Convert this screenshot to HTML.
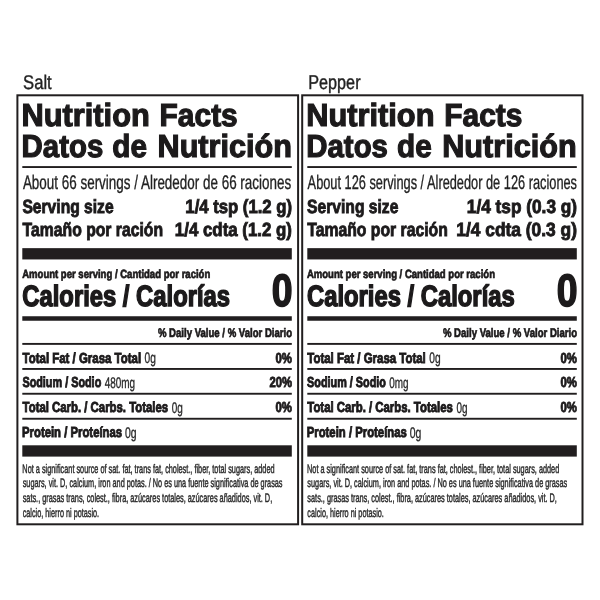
<!DOCTYPE html>
<html lang="en"><head><meta charset="utf-8"><title>Nutrition Facts</title><style>
html,body{margin:0;padding:0;background:#fff}body{width:600px;height:600px;position:relative;overflow:hidden;font-family:"Liberation Sans", sans-serif}.t{position:absolute;left:0;top:0;white-space:nowrap;line-height:1;display:block;transform-origin:0 0;text-rendering:geometricPrecision}.w{position:absolute;left:0;top:0;width:600px;height:600px;will-change:transform}.g{position:absolute;left:0;top:0}
</style></head><body><div class="w">
<svg class="g" width="600" height="600" viewBox="0 0 600 600" shape-rendering="geometricPrecision">
<rect x="17.4" y="95.3" width="280.7" height="429" fill="none" stroke="#211e1f" stroke-width="2"/>
<rect x="302.2" y="95.3" width="280.3" height="429" fill="none" stroke="#211e1f" stroke-width="2"/>
<rect x="22.3" y="166.1" width="269.5" height="1.9" fill="#211e1f"/>
<rect x="22.3" y="248.15" width="269.5" height="11.3" fill="#211e1f"/>
<rect x="22.3" y="316.25" width="269.5" height="4.5" fill="#211e1f"/>
<rect x="22.3" y="342.95" width="269.5" height="1.9" fill="#211e1f"/>
<rect x="22.3" y="368" width="269.5" height="1.9" fill="#211e1f"/>
<rect x="22.3" y="392.8" width="269.5" height="1.9" fill="#211e1f"/>
<rect x="22.3" y="417.8" width="269.5" height="1.9" fill="#211e1f"/>
<rect x="22.3" y="445.3" width="269.5" height="11.3" fill="#211e1f"/>
<rect x="307.3" y="166.1" width="269.5" height="1.9" fill="#211e1f"/>
<rect x="307.3" y="248.15" width="269.5" height="11.3" fill="#211e1f"/>
<rect x="307.3" y="316.25" width="269.5" height="4.5" fill="#211e1f"/>
<rect x="307.3" y="342.95" width="269.5" height="1.9" fill="#211e1f"/>
<rect x="307.3" y="368" width="269.5" height="1.9" fill="#211e1f"/>
<rect x="307.3" y="392.8" width="269.5" height="1.9" fill="#211e1f"/>
<rect x="307.3" y="417.8" width="269.5" height="1.9" fill="#211e1f"/>
<rect x="307.3" y="445.3" width="269.5" height="11.3" fill="#211e1f"/>
</svg>
<span class="t" style="font-size:19.83px;font-weight:400;color:#222;-webkit-text-stroke:0.4px #222;transform:translate(23.07px,74.02px) scaleX(0.8388)">Salt</span>
<span class="t" style="font-size:31.98px;font-weight:700;color:#1c1a1b;-webkit-text-stroke:1.2px #1c1a1b;transform:translate(21.56px,99.02px) scaleX(0.9628)">Nutrition</span>
<span class="t" style="font-size:31.98px;font-weight:700;color:#1c1a1b;-webkit-text-stroke:1.2px #1c1a1b;transform:translate(159.60px,99.02px) scaleX(0.9354)">Facts</span>
<span class="t" style="font-size:31.84px;font-weight:700;color:#1c1a1b;-webkit-text-stroke:1.2px #1c1a1b;transform:translate(21.62px,131.02px) scaleX(0.9229)">Datos</span>
<span class="t" style="font-size:31.84px;font-weight:700;color:#1c1a1b;-webkit-text-stroke:1.2px #1c1a1b;transform:translate(112.30px,131.02px) scaleX(0.9333)">de</span>
<span class="t" style="font-size:31.84px;font-weight:700;color:#1c1a1b;-webkit-text-stroke:1.2px #1c1a1b;transform:translate(157.56px,131.02px) scaleX(0.9616)">Nutrición</span>
<span class="t" style="font-size:19.76px;font-weight:400;color:#222;-webkit-text-stroke:0.35px #222;transform:translate(22.90px,174.02px) scaleX(0.6806)">About 66 servings / Alrededor de 66 raciones</span>
<span class="t" style="font-size:19.13px;font-weight:700;color:#1c1a1b;-webkit-text-stroke:0.9px #1c1a1b;transform:translate(22.40px,198.02px) scaleX(0.8180)">Serving size</span>
<span class="t" style="font-size:19.13px;font-weight:700;color:#1c1a1b;-webkit-text-stroke:0.9px #1c1a1b;transform:translate(185.34px,198.02px) scaleX(0.8737)">1/4 tsp (1.2 g)</span>
<span class="t" style="font-size:19.13px;font-weight:700;color:#1c1a1b;-webkit-text-stroke:0.9px #1c1a1b;transform:translate(22.61px,221.02px) scaleX(0.8235)">Tamaño por ración</span>
<span class="t" style="font-size:19.13px;font-weight:700;color:#1c1a1b;-webkit-text-stroke:0.9px #1c1a1b;transform:translate(174.84px,221.02px) scaleX(0.8821)">1/4 cdta (1.2 g)</span>
<span class="t" style="font-size:11.87px;font-weight:700;color:#1c1a1b;-webkit-text-stroke:0.7px #1c1a1b;transform:translate(22.20px,269.02px) scaleX(0.8039)">Amount per serving / Cantidad por ración</span>
<span class="t" style="font-size:29.47px;font-weight:700;color:#1c1a1b;-webkit-text-stroke:1.5px #1c1a1b;transform:translate(22.30px,282.02px) scaleX(0.8078)">Calories / Calorías</span>
<span class="t" style="font-size:45.25px;font-weight:700;color:#1c1a1b;-webkit-text-stroke:1.6px #1c1a1b;transform:translate(271.67px,268.02px) scaleX(0.8261)">0</span>
<span class="t" style="font-size:12.43px;font-weight:700;color:#1c1a1b;-webkit-text-stroke:0.7px #1c1a1b;transform:translate(157.90px,327.02px) scaleX(0.7712)">% Daily Value / % Valor Diario</span>
<span class="t" style="font-size:14.53px;font-weight:700;color:#1c1a1b;-webkit-text-stroke:0.9px #1c1a1b;transform:translate(22.60px,352.02px) scaleX(0.7883)">Total Fat / Grasa Total</span>
<span class="t" style="font-size:15.29px;font-weight:400;color:#2a2a2a;-webkit-text-stroke:0.35px #2a2a2a;transform:translate(144.57px,351.02px) scaleX(0.6667)">0g</span>
<span class="t" style="font-size:14.53px;font-weight:700;color:#1c1a1b;-webkit-text-stroke:0.9px #1c1a1b;transform:translate(275.55px,352.02px) scaleX(0.7831)">0%</span>
<span class="t" style="font-size:14.53px;font-weight:700;color:#1c1a1b;-webkit-text-stroke:0.9px #1c1a1b;transform:translate(22.40px,376.02px) scaleX(0.7464)">Sodium / Sodio</span>
<span class="t" style="font-size:15.29px;font-weight:400;color:#2a2a2a;-webkit-text-stroke:0.35px #2a2a2a;transform:translate(104.74px,376.02px) scaleX(0.6503)">480mg</span>
<span class="t" style="font-size:14.53px;font-weight:700;color:#1c1a1b;-webkit-text-stroke:0.9px #1c1a1b;transform:translate(269.50px,376.02px) scaleX(0.7759)">20%</span>
<span class="t" style="font-size:14.53px;font-weight:700;color:#1c1a1b;-webkit-text-stroke:0.9px #1c1a1b;transform:translate(22.60px,401.02px) scaleX(0.7833)">Total Carb. / Carbs. Totales</span>
<span class="t" style="font-size:15.29px;font-weight:400;color:#2a2a2a;-webkit-text-stroke:0.35px #2a2a2a;transform:translate(171.82px,401.02px) scaleX(0.6508)">0g</span>
<span class="t" style="font-size:14.53px;font-weight:700;color:#1c1a1b;-webkit-text-stroke:0.9px #1c1a1b;transform:translate(275.55px,401.02px) scaleX(0.7831)">0%</span>
<span class="t" style="font-size:14.53px;font-weight:700;color:#1c1a1b;-webkit-text-stroke:0.9px #1c1a1b;transform:translate(22.01px,426.02px) scaleX(0.7804)">Protein / Proteínas</span>
<span class="t" style="font-size:15.29px;font-weight:400;color:#2a2a2a;-webkit-text-stroke:0.35px #2a2a2a;transform:translate(125.06px,426.02px) scaleX(0.6825)">0g</span>
<span class="t" style="font-size:12.36px;font-weight:400;color:#2a2a2a;-webkit-text-stroke:0.45px #2a2a2a;transform:translate(22.36px,463.02px) scaleX(0.5921)">Not a significant source of sat. fat, trans fat, cholest., fiber, total sugars, added</span>
<span class="t" style="font-size:12.36px;font-weight:400;color:#2a2a2a;-webkit-text-stroke:0.45px #2a2a2a;transform:translate(22.65px,477.02px) scaleX(0.5920)">sugars, vit. D, calcium, iron and potas. / No es una fuente significativa de grasas</span>
<span class="t" style="font-size:12.36px;font-weight:400;color:#2a2a2a;-webkit-text-stroke:0.45px #2a2a2a;transform:translate(22.65px,492.02px) scaleX(0.5936)">sats., grasas trans, colest., fibra, azúcares totales, azúcares añadidos, vit. D,</span>
<span class="t" style="font-size:12.36px;font-weight:400;color:#2a2a2a;-webkit-text-stroke:0.45px #2a2a2a;transform:translate(22.65px,507.02px) scaleX(0.5891)">calcio, hierro ni potasio.</span>
<span class="t" style="font-size:19.83px;font-weight:400;color:#222;-webkit-text-stroke:0.4px #222;transform:translate(308.17px,74.02px) scaleX(0.8193)">Pepper</span>
<span class="t" style="font-size:31.98px;font-weight:700;color:#1c1a1b;-webkit-text-stroke:1.2px #1c1a1b;transform:translate(306.26px,99.02px) scaleX(0.9628)">Nutrition</span>
<span class="t" style="font-size:31.98px;font-weight:700;color:#1c1a1b;-webkit-text-stroke:1.2px #1c1a1b;transform:translate(444.30px,99.02px) scaleX(0.9354)">Facts</span>
<span class="t" style="font-size:31.84px;font-weight:700;color:#1c1a1b;-webkit-text-stroke:1.2px #1c1a1b;transform:translate(306.32px,131.02px) scaleX(0.9229)">Datos</span>
<span class="t" style="font-size:31.84px;font-weight:700;color:#1c1a1b;-webkit-text-stroke:1.2px #1c1a1b;transform:translate(397.00px,131.02px) scaleX(0.9333)">de</span>
<span class="t" style="font-size:31.84px;font-weight:700;color:#1c1a1b;-webkit-text-stroke:1.2px #1c1a1b;transform:translate(442.26px,131.02px) scaleX(0.9616)">Nutrición</span>
<span class="t" style="font-size:19.76px;font-weight:400;color:#222;-webkit-text-stroke:0.35px #222;transform:translate(307.60px,174.02px) scaleX(0.6474)">About 126 servings / Alrededor de 126 raciones</span>
<span class="t" style="font-size:19.13px;font-weight:700;color:#1c1a1b;-webkit-text-stroke:0.9px #1c1a1b;transform:translate(307.10px,198.02px) scaleX(0.8180)">Serving size</span>
<span class="t" style="font-size:19.13px;font-weight:700;color:#1c1a1b;-webkit-text-stroke:0.9px #1c1a1b;transform:translate(466.82px,198.02px) scaleX(0.9027)">1/4 tsp (0.3 g)</span>
<span class="t" style="font-size:19.13px;font-weight:700;color:#1c1a1b;-webkit-text-stroke:0.9px #1c1a1b;transform:translate(307.31px,221.02px) scaleX(0.8235)">Tamaño por ración</span>
<span class="t" style="font-size:19.13px;font-weight:700;color:#1c1a1b;-webkit-text-stroke:0.9px #1c1a1b;transform:translate(456.32px,221.02px) scaleX(0.9087)">1/4 cdta (0.3 g)</span>
<span class="t" style="font-size:11.87px;font-weight:700;color:#1c1a1b;-webkit-text-stroke:0.7px #1c1a1b;transform:translate(306.90px,269.02px) scaleX(0.8039)">Amount per serving / Cantidad por ración</span>
<span class="t" style="font-size:29.47px;font-weight:700;color:#1c1a1b;-webkit-text-stroke:1.5px #1c1a1b;transform:translate(307.00px,282.02px) scaleX(0.8078)">Calories / Calorías</span>
<span class="t" style="font-size:45.25px;font-weight:700;color:#1c1a1b;-webkit-text-stroke:1.6px #1c1a1b;transform:translate(556.67px,268.02px) scaleX(0.8261)">0</span>
<span class="t" style="font-size:12.43px;font-weight:700;color:#1c1a1b;-webkit-text-stroke:0.7px #1c1a1b;transform:translate(442.90px,327.02px) scaleX(0.7712)">% Daily Value / % Valor Diario</span>
<span class="t" style="font-size:14.53px;font-weight:700;color:#1c1a1b;-webkit-text-stroke:0.9px #1c1a1b;transform:translate(307.30px,352.02px) scaleX(0.7883)">Total Fat / Grasa Total</span>
<span class="t" style="font-size:15.29px;font-weight:400;color:#2a2a2a;-webkit-text-stroke:0.35px #2a2a2a;transform:translate(429.27px,351.02px) scaleX(0.6667)">0g</span>
<span class="t" style="font-size:14.53px;font-weight:700;color:#1c1a1b;-webkit-text-stroke:0.9px #1c1a1b;transform:translate(560.55px,352.02px) scaleX(0.7831)">0%</span>
<span class="t" style="font-size:14.53px;font-weight:700;color:#1c1a1b;-webkit-text-stroke:0.9px #1c1a1b;transform:translate(307.10px,376.02px) scaleX(0.7464)">Sodium / Sodio</span>
<span class="t" style="font-size:15.29px;font-weight:400;color:#2a2a2a;-webkit-text-stroke:0.35px #2a2a2a;transform:translate(389.28px,376.02px) scaleX(0.6491)">0mg</span>
<span class="t" style="font-size:14.53px;font-weight:700;color:#1c1a1b;-webkit-text-stroke:0.9px #1c1a1b;transform:translate(560.55px,376.02px) scaleX(0.7831)">0%</span>
<span class="t" style="font-size:14.53px;font-weight:700;color:#1c1a1b;-webkit-text-stroke:0.9px #1c1a1b;transform:translate(307.30px,401.02px) scaleX(0.7833)">Total Carb. / Carbs. Totales</span>
<span class="t" style="font-size:15.29px;font-weight:400;color:#2a2a2a;-webkit-text-stroke:0.35px #2a2a2a;transform:translate(456.52px,401.02px) scaleX(0.6508)">0g</span>
<span class="t" style="font-size:14.53px;font-weight:700;color:#1c1a1b;-webkit-text-stroke:0.9px #1c1a1b;transform:translate(560.55px,401.02px) scaleX(0.7831)">0%</span>
<span class="t" style="font-size:14.53px;font-weight:700;color:#1c1a1b;-webkit-text-stroke:0.9px #1c1a1b;transform:translate(306.71px,426.02px) scaleX(0.7804)">Protein / Proteínas</span>
<span class="t" style="font-size:15.29px;font-weight:400;color:#2a2a2a;-webkit-text-stroke:0.35px #2a2a2a;transform:translate(409.76px,426.02px) scaleX(0.6825)">0g</span>
<span class="t" style="font-size:12.36px;font-weight:400;color:#2a2a2a;-webkit-text-stroke:0.45px #2a2a2a;transform:translate(307.06px,463.02px) scaleX(0.5921)">Not a significant source of sat. fat, trans fat, cholest., fiber, total sugars, added</span>
<span class="t" style="font-size:12.36px;font-weight:400;color:#2a2a2a;-webkit-text-stroke:0.45px #2a2a2a;transform:translate(307.35px,477.02px) scaleX(0.5920)">sugars, vit. D, calcium, iron and potas. / No es una fuente significativa de grasas</span>
<span class="t" style="font-size:12.36px;font-weight:400;color:#2a2a2a;-webkit-text-stroke:0.45px #2a2a2a;transform:translate(307.35px,492.02px) scaleX(0.5936)">sats., grasas trans, colest., fibra, azúcares totales, azúcares añadidos, vit. D,</span>
<span class="t" style="font-size:12.36px;font-weight:400;color:#2a2a2a;-webkit-text-stroke:0.45px #2a2a2a;transform:translate(307.35px,507.02px) scaleX(0.5891)">calcio, hierro ni potasio.</span>
</div></body></html>
